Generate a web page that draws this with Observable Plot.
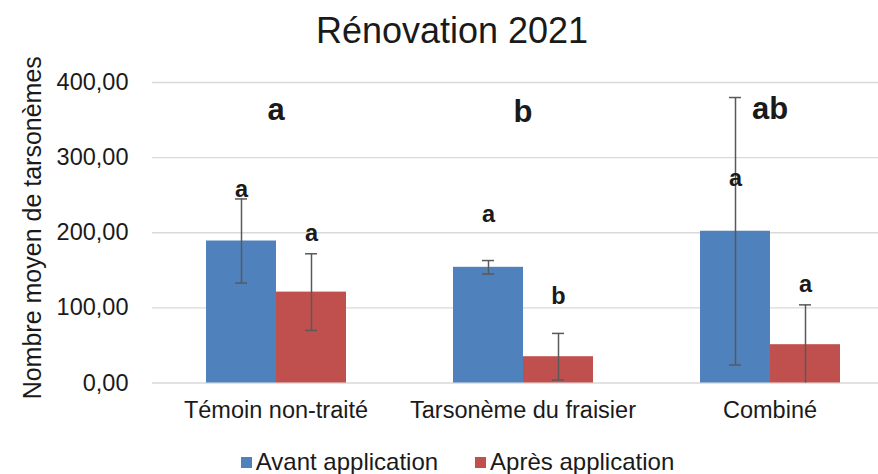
<!DOCTYPE html>
<html><head><meta charset="utf-8">
<script src="https://cdn.jsdelivr.net/npm/d3@7"></script>
<script src="https://cdn.jsdelivr.net/npm/@observablehq/plot@0.6"></script>
<style>
body{margin:0;background:#fff;font-family:"Liberation Sans",Arial,sans-serif;}
#wrap{width:878px;height:474px;overflow:hidden;}
#title{height:62px;line-height:62px;font-size:36px;text-align:center;padding-left:26px;box-sizing:border-box;color:#1a1a1a;white-space:nowrap;}
#legend{height:42px;display:flex;justify-content:center;align-items:flex-start;padding-left:37px;padding-top:16px;box-sizing:border-box;font-size:24px;color:#1a1a1a;white-space:nowrap;}
.item{display:flex;align-items:flex-start;}
.item + .item{margin-left:37px;}
.sw{width:11px;height:11px;margin-top:8.5px;margin-right:4px;}
</style></head>
<body>
<div id="wrap">
<div id="title">Rénovation 2021</div>
<div id="chart"></div>
<div id="legend"></div>
</div>
<script>
const categories = ["Témoin non-traité", "Tarsonème du fraisier", "Combiné"];
const series = ["Avant application", "Après application"];
const colors = ["#4F81BD", "#C0504D"];
const avant = [189, 154, 202];
const apres = [121, 35, 51];
const avantErr = [56, 9, 178];
const apresErr = [51, 31, 53];
const groupLetters = ["a", "b", "ab"];
const groupLetterY = [350, 348, 351];
const avantLetters = ["a", "a", "a"];
const apresLetters = ["a", "b", "a"];
const avantLetterY = [247, 214, 262];
const apresLetterY = [189, 105, 121];
const yTicks = [0, 100, 200, 300, 400];
const yLabel = "Nombre moyen de tarsonèmes";

const rows = categories.flatMap((c, i) => [
  {cat: c, serie: series[0], mean: avant[i], err: avantErr[i], letter: avantLetters[i], ly: avantLetterY[i]},
  {cat: c, serie: series[1], mean: apres[i], err: apresErr[i], letter: apresLetters[i], ly: apresLetterY[i]}
]);
rows.forEach(d => { d.lo = Math.max(0, d.mean - d.err); d.hi = d.mean + d.err; d.clipped = d.mean - d.err < 0; });
const groups = categories.map((c, i) => ({cat: c, letter: groupLetters[i], y: groupLetterY[i]}));
const fmt = d => d.toFixed(2).replace(".", ",");
const txt = "#1a1a1a";
const ebar = "#595959";

const chart = Plot.plot({
  width: 878, height: 370,
  marginTop: 20, marginBottom: 49.5, marginLeft: 152, marginRight: 0,
  fx: {domain: categories, range: [152, 893.5], padding: 0, axis: null},
  x: {domain: series, paddingInner: 0, paddingOuter: 0.764, axis: null},
  y: {domain: [0, 400], axis: null},
  color: {domain: series, range: colors},
  style: {fontFamily: '"Liberation Sans", Arial, sans-serif', fontSize: "23.5px", color: txt, background: "#fff", display: "block", overflow: "visible"},
  marks: [
    Plot.ruleY(yTicks, {stroke: "#d9d9d9", strokeWidth: 1.3}),
    Plot.barY(rows, {fx: "cat", x: "serie", y: "mean", fill: "serie"}),
    Plot.ruleX(rows, {fx: "cat", x: "serie", y1: "lo", y2: "hi", stroke: ebar, strokeWidth: 1.5}),
    Plot.tickY(rows, {fx: "cat", x: "serie", y: "hi", stroke: ebar, strokeWidth: 1.5, insetLeft: 29, insetRight: 29}),
    Plot.tickY(rows.filter(d => !d.clipped), {fx: "cat", x: "serie", y: "lo", stroke: ebar, strokeWidth: 1.5, insetLeft: 29, insetRight: 29}),
    Plot.text(rows, {fx: "cat", x: "serie", y: "ly", text: "letter", fontWeight: "bold", fontSize: 23.5, lineAnchor: "bottom", fill: txt}),
    Plot.text(groups, {fx: "cat", y: "y", text: "letter", fontWeight: "bold", fontSize: 31, lineAnchor: "bottom", fill: txt}),
    Plot.text(categories, {fx: d => d, text: d => d, frameAnchor: "bottom", lineAnchor: "top", dy: 18.8, fill: txt}),
    Plot.text(yTicks, {fx: () => categories[0], y: d => d, text: fmt, frameAnchor: "left", textAnchor: "end", dx: -24, fill: txt}),
    Plot.text([yLabel], {fx: () => categories[0], text: d => d, frameAnchor: "left", textAnchor: "middle", rotate: -90, lineAnchor: "bottom", dx: -112, dy: -5, fontSize: 25, fill: txt})
  ]
});
document.getElementById("chart").appendChild(chart);

const legend = document.getElementById("legend");
series.forEach((s, i) => {
  const item = document.createElement("div");
  item.className = "item";
  const sw = document.createElement("div");
  sw.className = "sw";
  sw.style.background = colors[i];
  const label = document.createElement("span");
  label.textContent = s;
  item.appendChild(sw);
  item.appendChild(label);
  legend.appendChild(item);
});
</script>
</body></html>
